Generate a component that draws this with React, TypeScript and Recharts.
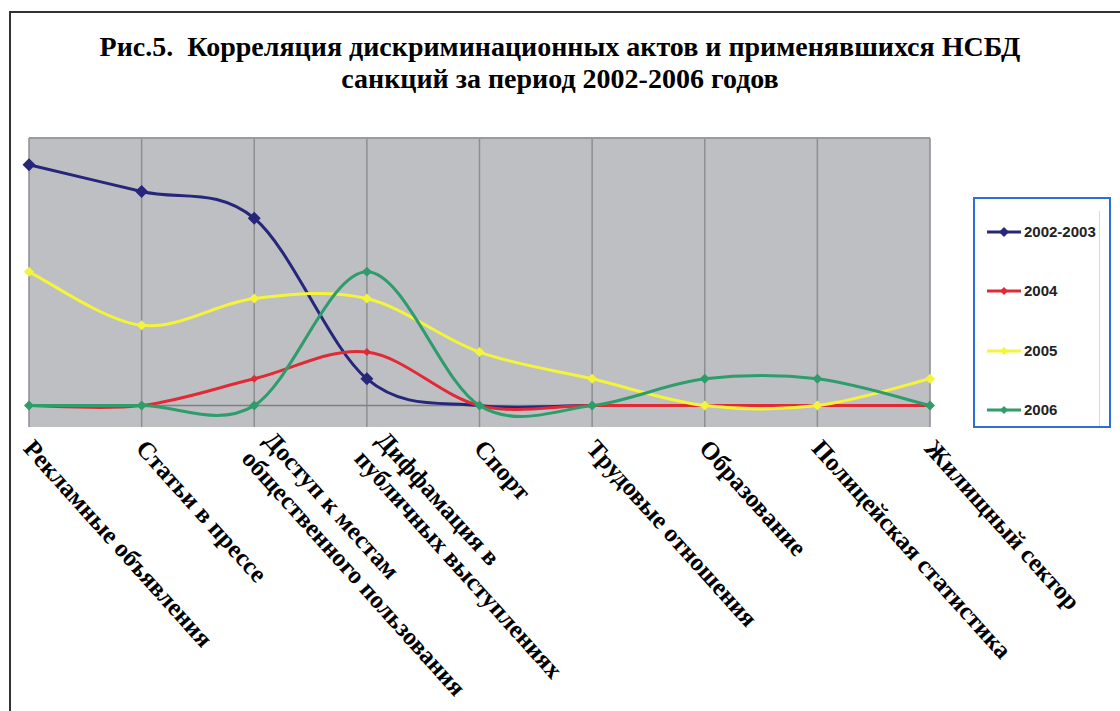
import React from 'react';
import {
  LineChart,
  Line,
  XAxis,
  YAxis,
  CartesianGrid,
  ReferenceLine,
  Legend,
} from 'recharts';

const categories = [
  'Рекламные объявления',
  'Статьи в прессе',
  'Доступ к местам\nобщественного пользования',
  'Диффамация в\nпубличных выступлениях',
  'Спорт',
  'Трудовые отношения',
  'Образование',
  'Полицейская статистика',
  'Жилищный сектор',
];

const seriesNames = ['2002-2003', '2004', '2005', '2006'];
const s2002 = [9, 8, 7, 1, 0, 0, 0, 0, 0];
const s2004 = [0, 0, 1, 2, 0, 0, 0, 0, 0];
const s2005 = [5, 3, 4, 4, 2, 1, 0, 0, 1];
const s2006 = [0, 0, 0, 5, 0, 0, 1, 1, 0];

const COLORS = ['#26267a', '#e22a36', '#f4f43a', '#2f9c6c'];
const MARK = [6.5, 4, 5, 5];
const F_SERIF = 'Liberation Serif, DejaVu Serif, Times New Roman, serif';
const F_SANS = 'Liberation Sans, Arial, sans-serif';

const data = categories.map((name, i) => ({
  name,
  [seriesNames[0]]: s2002[i],
  [seriesNames[1]]: s2004[i],
  [seriesNames[2]]: s2005[i],
  [seriesNames[3]]: s2006[i],
}));

// Excel-style smoothed line (uniform Catmull-Rom as cubic bezier)
function excelCurve(context: any) {
  let pts: number[][] = [];
  return {
    areaStart() {},
    areaEnd() {},
    lineStart() {
      pts = [];
    },
    lineEnd() {
      const n = pts.length;
      if (!n) return;
      context.moveTo(pts[0][0], pts[0][1]);
      for (let i = 0; i < n - 1; i++) {
        const p0 = pts[i - 1] || pts[i];
        const p1 = pts[i];
        const p2 = pts[i + 1];
        const p3 = pts[i + 2] || p2;
        context.bezierCurveTo(
          p1[0] + (p2[0] - p0[0]) / 6,
          p1[1] + (p2[1] - p0[1]) / 6,
          p2[0] - (p3[0] - p1[0]) / 6,
          p2[1] - (p3[1] - p1[1]) / 6,
          p2[0],
          p2[1]
        );
      }
    },
    point(x: number, y: number) {
      pts.push([+x, +y]);
    },
  };
}

const diamond = (cx: number, cy: number, r: number) =>
  `M${cx},${cy - r}L${cx + r},${cy}L${cx},${cy + r}L${cx - r},${cy}Z`;

const makeDot = (idx: number) => (props: any) => {
  const { cx, cy, index, value } = props;
  // the 2002-2003 markers sit under the other series where they are zero
  if (cx == null || cy == null || (idx === 0 && !value)) return <g key={index} />;
  return <path key={index} d={diamond(cx, cy, MARK[idx])} fill={COLORS[idx]} />;
};

const AngledTick = (props: any) => {
  const { x, y, payload } = props;
  const lines = String(payload.value).split('\n');
  const twoLines = lines.length > 1;
  return (
    <g transform={`translate(${x},${y}) rotate(48)`}>
      <text
        fontFamily={F_SERIF}
        fontWeight={700}
        fontSize={25}
        fill="#000"
        textAnchor="start"
      >
        {twoLines ? (
          <>
            <tspan x={16} y={3}>{lines[0]}</tspan>
            <tspan x={15} y={32}>{lines[1]}</tspan>
          </>
        ) : (
          <tspan x={12} y={20}>{lines[0]}</tspan>
        )}
      </text>
    </g>
  );
};

const renderLegend = (props: any) => {
  const payload = props.payload || [];
  return (
    <div
      style={{
        width: 134,
        height: 227,
        border: '2px solid #2d6fd8',
        background: '#fff',
        position: 'relative',
        fontFamily: F_SANS,
      }}
    >
      <div
        style={{
          position: 'absolute',
          left: 124,
          top: 12,
          width: 1,
          height: 215,
          background: '#d8d8d8',
        }}
      />
      {payload.map((p: any, i: number) => {
        const idx = seriesNames.indexOf(String(p.value));
        return (
          <div
            key={i}
            style={{
              position: 'absolute',
              left: 12,
              top: 26 + i * 59.3,
              display: 'flex',
              alignItems: 'center',
              height: 14,
            }}
          >
            <svg width={34} height={14}>
              <line x1={0} y1={7} x2={34} y2={7} stroke={COLORS[idx]} strokeWidth={3} />
              <path d={diamond(17, 7, idx === 0 ? 5 : 4)} fill={COLORS[idx]} />
            </svg>
            <span
              style={{
                fontWeight: 700,
                fontSize: 15,
                color: '#222',
                marginLeft: 3,
                lineHeight: '14px',
              }}
            >
              {p.value}
            </span>
          </div>
        );
      })}
    </div>
  );
};

export default function App() {
  return (
    <div
      style={{
        position: 'absolute',
        left: 0,
        top: 0,
        width: 1120,
        height: 711,
        overflow: 'hidden',
        background: '#fff',
      }}
    >
      <div
        style={{
          position: 'absolute',
          left: 9,
          top: 11,
          width: 1200,
          height: 800,
          borderTop: '2px solid #333',
          borderLeft: '2px solid #333',
        }}
      />
      <div
        style={{
          position: 'absolute',
          left: 0,
          top: 31,
          width: 1120,
          textAlign: 'center',
          fontFamily: F_SERIF,
          fontWeight: 700,
          fontSize: 28,
          lineHeight: '32px',
          color: '#000',
        }}
      >
        Рис.5.&nbsp; Корреляция дискриминационных актов и применявшихся НСБД
        <br />
        санкций за период 2002-2006 годов
      </div>

      <div style={{ position: 'absolute', left: 0, top: 0 }}>
        <LineChart
          width={1120}
          height={711}
          data={data}
          margin={{ top: 138, right: 190, bottom: 254, left: 29 }}
        >
          <CartesianGrid
            horizontal={false}
            vertical
            fill="#bebfc3"
            stroke="#8d8e92"
            strokeWidth={1.5}
          />
          <XAxis
            dataKey="name"
            height={30}
            interval={0}
            axisLine={false}
            tickLine={false}
            tickSize={0}
            tickMargin={0}
            tick={<AngledTick />}
          />
          <YAxis hide type="number" domain={[-0.8, 10]} allowDataOverflow />
          <ReferenceLine y={10} stroke="#9a9b9f" strokeWidth={2} />
          <ReferenceLine y={0} stroke="#7e7f83" strokeWidth={1.5} />
          <Legend
            layout="vertical"
            align="center"
            verticalAlign="middle"
            content={renderLegend}
            wrapperStyle={{ left: 973, top: 197, width: 138, height: 231 }}
          />
          {seriesNames.map((s, i) => (
            <Line
              key={s}
              dataKey={s}
              name={s}
              type={excelCurve as any}
              stroke={COLORS[i]}
              strokeWidth={3}
              dot={makeDot(i)}
              activeDot={false}
              isAnimationActive={false}
            />
          ))}
        </LineChart>
      </div>
    </div>
  );
}
